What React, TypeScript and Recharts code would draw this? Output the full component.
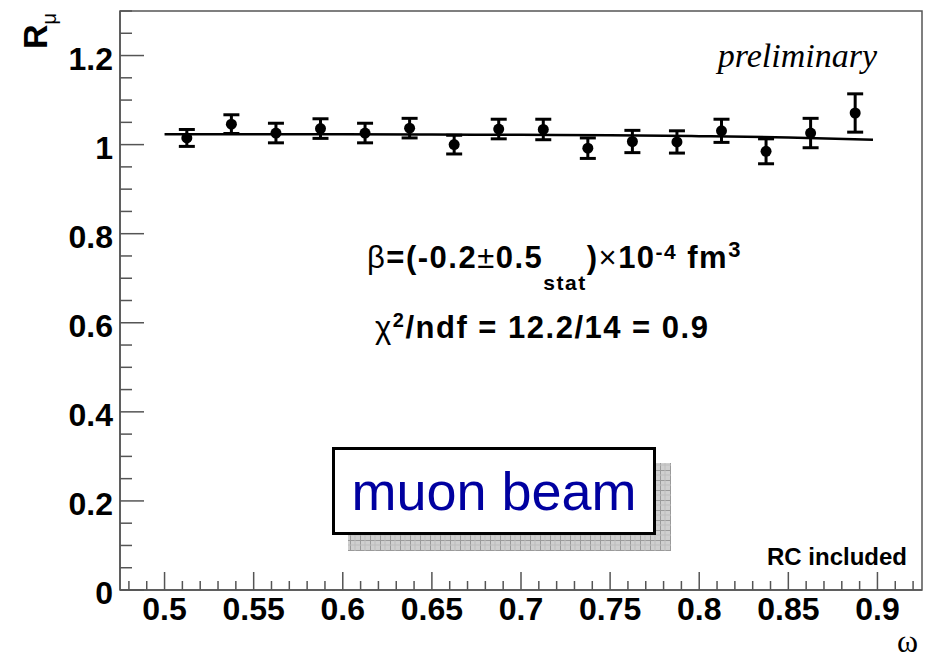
import React from 'react';
import {
  ComposedChart,
  Scatter,
  Line,
  ErrorBar,
  XAxis,
  YAxis,
  ReferenceArea,
} from 'recharts';

// measured points: omega bin centres, ratio R_mu and stat. errors
const omega = [
  0.5125, 0.5375, 0.5625, 0.5875, 0.6125, 0.6375, 0.6625, 0.6875,
  0.7125, 0.7375, 0.7625, 0.7875, 0.8125, 0.8375, 0.8625, 0.8875,
];
const ratio = [
  1.015, 1.046, 1.026, 1.036, 1.026, 1.037, 1.0, 1.035,
  1.034, 0.992, 1.007, 1.006, 1.031, 0.985, 1.026, 1.071,
];
const ratioErr = [
  0.019, 0.021, 0.022, 0.022, 0.022, 0.022, 0.021, 0.022,
  0.023, 0.023, 0.025, 0.025, 0.026, 0.028, 0.033, 0.043,
];

// fit curve
const fitOmega = [0.5, 0.55, 0.6, 0.65, 0.7, 0.75, 0.8, 0.85, 0.8975];
const fitRatio = [1.023, 1.023, 1.023, 1.0225, 1.022, 1.021, 1.019, 1.016, 1.011];

const xTicks = [
  0.48, 0.49, 0.5, 0.51, 0.52, 0.53, 0.54, 0.55, 0.56, 0.57, 0.58, 0.59,
  0.6, 0.61, 0.62, 0.63, 0.64, 0.65, 0.66, 0.67, 0.68, 0.69, 0.7, 0.71,
  0.72, 0.73, 0.74, 0.75, 0.76, 0.77, 0.78, 0.79, 0.8, 0.81, 0.82, 0.83,
  0.84, 0.85, 0.86, 0.87, 0.88, 0.89, 0.9, 0.91, 0.92,
];
const yTicks = [
  0, 0.05, 0.1, 0.15, 0.2, 0.25, 0.3, 0.35, 0.4, 0.45, 0.5, 0.55, 0.6,
  0.65, 0.7, 0.75, 0.8, 0.85, 0.9, 0.95, 1, 1.05, 1.1, 1.15, 1.2, 1.25, 1.3,
];

const points = omega.map((x, i) => ({ x, r: ratio[i], err: ratioErr[i] }));
const fit = fitOmega.map((x, i) => ({ x, fit: fitRatio[i] }));

const AXIS = '#555';
const SANS = '"Liberation Sans", Arial, Helvetica, sans-serif';
const SERIF = '"Liberation Serif", "Times New Roman", serif';

const fmt = (v: number) => String(Math.round(v * 100) / 100);

const XTick = (props: any) => {
  const { x, y, payload } = props;
  const v = payload.value;
  const major = Math.round(v * 100) % 5 === 0;
  return (
    <g>
      <line x1={x} x2={x} y1={y} y2={y - (major ? 18 : 9)} stroke={AXIS} strokeWidth={1.5} />
      {major && (
        <text x={x} y={y + 30} textAnchor="middle" fontFamily={SANS} fontWeight="bold" fontSize={32} fill="#000">
          {fmt(v)}
        </text>
      )}
    </g>
  );
};

const YTick = (props: any) => {
  const { x, y, payload } = props;
  const v = payload.value;
  const major = Math.round(v * 100) % 20 === 0;
  return (
    <g>
      <line x1={x} x2={x + (major ? 24 : 12)} y1={y} y2={y} stroke={AXIS} strokeWidth={1.5} />
      {major && (
        <text x={x - 7} y={y + 14} textAnchor="end" fontFamily={SANS} fontWeight="bold" fontSize={32} fill="#000">
          {fmt(v)}
        </text>
      )}
    </g>
  );
};

const Dot = (props: any) => <circle cx={props.cx} cy={props.cy} r={5.5} fill="#000" />;

const Annotations = () => (
  <svg
    width={925}
    height={658}
    style={{ position: 'absolute', left: 0, top: 0, pointerEvents: 'none' }}
  >
    <defs>
      <pattern id="hatch" width="10" height="10" patternUnits="userSpaceOnUse">
        <rect width="10" height="10" fill="#cfcfcf" />
        <path d="M0 0.5H10M0.5 0V10" stroke="#9a9a9a" strokeWidth="1" />
        <path d="M0 5H10M5 0V10" stroke="#bdbdbd" strokeWidth="1" />
      </pattern>
    </defs>

    {/* axis titles */}
    <text transform="translate(47,13) rotate(-90)" textAnchor="end" fontFamily={SANS} fontWeight="bold" fontSize={34}>
      R<tspan fontSize={20} fontWeight="normal" dy={9}>μ</tspan>
    </text>
    <text x={918} y={652} textAnchor="end" fontFamily={SERIF} fontSize={32}>
      ω
    </text>

    <text x={877} y={67} textAnchor="end" fontFamily={SERIF} fontStyle="italic" fontSize={34}>
      preliminary
    </text>
    <text x={907} y={565} textAnchor="end" fontFamily={SANS} fontWeight="bold" fontSize={24}>
      RC included
    </text>

    <text x={367} y={268} fontFamily={SANS} fontWeight="bold" fontSize={31} letterSpacing={1.5}>
      <tspan fontWeight="normal">β</tspan>=(-0.2<tspan fontWeight="normal">±</tspan>0.5
      <tspan fontSize={21} dy={22}>stat</tspan>
      <tspan dy={-22}>)</tspan>
      <tspan fontWeight="normal">×</tspan>10
      <tspan fontSize={21} dy={-9}>-4</tspan>
      <tspan dy={9} dx={10}>fm</tspan>
      <tspan fontSize={22} dy={-11}>3</tspan>
    </text>
    <text x={375} y={338} fontFamily={SANS} fontWeight="bold" fontSize={31} letterSpacing={1.5}>
      <tspan fontWeight="normal">χ</tspan>
      <tspan fontSize={20} dy={-11}>2</tspan>
      <tspan dy={11}>/ndf = 12.2/14 = 0.9</tspan>
    </text>

    {/* label box with shadow */}
    <rect x={348} y={463} width={323} height={88} fill="url(#hatch)" />
    <rect x={333.5} y={448.5} width={321} height={85} fill="#fff" stroke="#000" strokeWidth={3} />
    <text x={494} y={510} textAnchor="middle" fontFamily={SANS} fontSize={54} fill="#0000a0">
      muon beam
    </text>
  </svg>
);

export default function App() {
  return (
    <div style={{ position: 'absolute', left: 0, top: 0, width: 925, height: 658, background: '#fff' }}>
      <ComposedChart
        width={925}
        height={658}
        margin={{ top: 11, right: 3, bottom: 0, left: 0 }}
      >
        <XAxis
          type="number"
          dataKey="x"
          domain={[0.475, 0.925]}
          ticks={xTicks}
          interval={0}
          tickSize={0}
          tickMargin={0}
          tick={<XTick />}
          axisLine={{ stroke: AXIS, strokeWidth: 1.5 }}
          height={68}
          allowDataOverflow
        />
        <YAxis
          type="number"
          domain={[0, 1.3]}
          ticks={yTicks}
          interval={0}
          tickSize={0}
          tickMargin={0}
          tick={<YTick />}
          axisLine={{ stroke: AXIS, strokeWidth: 1.5 }}
          width={120}
          allowDataOverflow
        />
        <ReferenceArea
          x1={0.475}
          x2={0.925}
          y1={0}
          y2={1.3}
          fill="none"
          stroke={AXIS}
          strokeWidth={1.5}
        />
        <Line
          data={fit}
          dataKey="fit"
          type="monotone"
          stroke="#000"
          strokeWidth={2.5}
          dot={false}
          isAnimationActive={false}
        />
        <Scatter data={points} dataKey="r" shape={<Dot />} isAnimationActive={false}>
          <ErrorBar dataKey="err" direction="y" width={8} strokeWidth={3} stroke="#000" isAnimationActive={false} />
        </Scatter>
      </ComposedChart>
      <Annotations />
    </div>
  );
}
